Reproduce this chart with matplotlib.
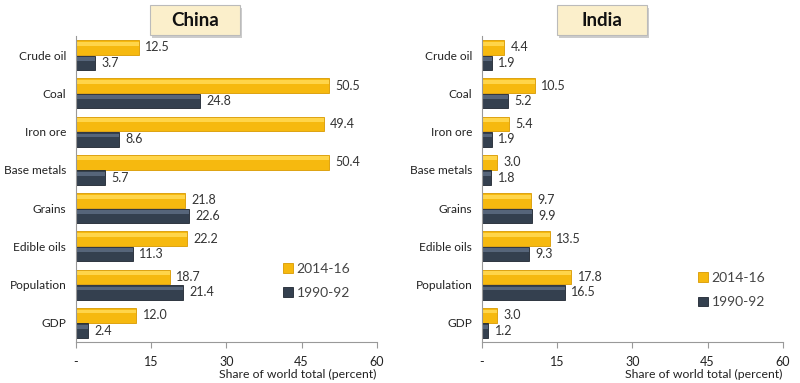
import matplotlib.pyplot as plt
from matplotlib.patches import Rectangle
import numpy as np

plt.rcParams["font.family"] = ["Lato", "DejaVu Sans"]

categories = ["Crude oil", "Coal", "Iron ore", "Base metals", "Grains", "Edible oils", "Population", "GDP"]
china_2014 = [12.5, 50.5, 49.4, 50.4, 21.8, 22.2, 18.7, 12.0]
china_1990 = [3.7, 24.8, 8.6, 5.7, 22.6, 11.3, 21.4, 2.4]
india_2014 = [4.4, 10.5, 5.4, 3.0, 9.7, 13.5, 17.8, 3.0]
india_1990 = [1.9, 5.2, 1.9, 1.8, 9.9, 9.3, 16.5, 1.2]
xticks = [0, 15, 30, 45, 60]
xtick_labels = ["-", "15", "30", "45", "60"]

yellow = "#F6B90F"
dark = "#34404F"

fig = plt.figure(figsize=(8, 3.83), dpi=100)


def panel(left, title, new, old, leg_pos, box_x):
    ax = fig.add_axes([left, 0.107, 0.376, 0.799])
    y = np.arange(len(categories))
    ax.barh(y - 0.2, new, height=0.38, color=yellow, edgecolor="#D99A00", linewidth=0.6, label="2014-16")
    ax.barh(y + 0.2, old, height=0.38, color=dark, edgecolor="#1E2630", linewidth=0.6, label="1990-92")
    # lighter top band to mimic the bevel
    ax.barh(y - 0.2 - 0.1, new, height=0.1, color="#FFD54A", linewidth=0)
    ax.barh(y + 0.2 - 0.1, old, height=0.1, color="#56657A", linewidth=0)
    for i in range(len(categories)):
        ax.text(new[i] + 1.3, y[i] - 0.2, f"{new[i]:.1f}", va="center", ha="left", fontsize=9, color="#333333")
        ax.text(old[i] + 1.3, y[i] + 0.2, f"{old[i]:.1f}", va="center", ha="left", fontsize=9, color="#333333")
    ax.set_yticks(y)
    ax.set_yticklabels(categories, fontsize=8.6, color="#222222")
    ax.tick_params(axis="y", length=0, pad=7)
    ax.set_xlim(0, 60)
    ax.set_ylim(7.5, -0.5)
    ax.set_xticks(xticks)
    ax.set_xticklabels(xtick_labels, fontsize=9, color="#222222")
    ax.tick_params(axis="x", length=4, direction="out", color="#999999", pad=6)
    for s in ["top", "right"]:
        ax.spines[s].set_visible(False)
    ax.spines["left"].set_color("#999999")
    ax.spines["bottom"].set_color("#999999")
    ax.set_xlabel("Share of world total (percent)", fontsize=8.8, color="#222222", loc="right", labelpad=1)
    ax.legend(loc="center", bbox_to_anchor=leg_pos, frameon=False, fontsize=10, handlelength=0.7,
              handleheight=0.7, handletextpad=0.3, labelspacing=0.9, labelcolor="#444444")
    # title box
    fig.patches.append(Rectangle((box_x + 0.003, 0.900), 0.1125, 0.078, transform=fig.transFigure,
                                 facecolor="#CCCCCC", edgecolor="none", zorder=1))
    fig.patches.append(Rectangle((box_x, 0.908), 0.1125, 0.078, transform=fig.transFigure,
                                 facecolor="#FBEFCB", edgecolor="#BBBBBB", linewidth=0.8, zorder=2))
    fig.text(box_x + 0.056, 0.947, title, ha="center", va="center", fontsize=13.5,
             fontweight="bold", color="#111111", zorder=3)
    return ax


panel(0.095, "China", china_2014, china_1990, (0.8, 0.2), 0.1875)
panel(0.6025, "India", india_2014, india_1990, (0.83, 0.17), 0.696)

fig.savefig("out.png", dpi=100)
